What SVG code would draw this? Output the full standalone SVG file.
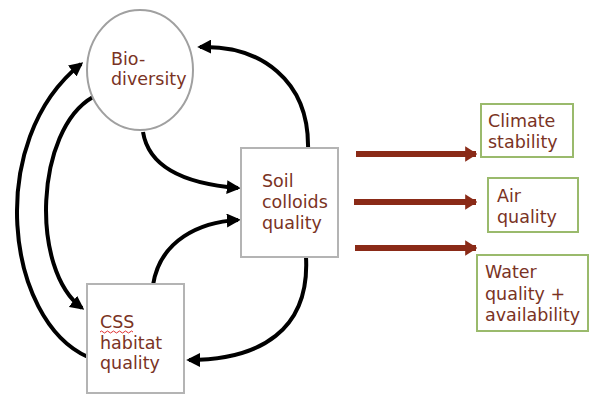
<svg xmlns="http://www.w3.org/2000/svg" width="592" height="396" viewBox="0 0 592 396">
<defs>
<marker id="ah" markerWidth="3.5" markerHeight="3.5" refX="2.8" refY="1.75" orient="auto" markerUnits="strokeWidth">
<path d="M0,0 L3.5,1.75 L0,3.5 z" fill="#000"/>
</marker>
<marker id="rh" markerWidth="2" markerHeight="2.6" refX="1.8" refY="1.3" orient="auto" markerUnits="strokeWidth">
<path d="M0,0 L2,1.3 L0,2.6 z" fill="#8a2a17"/>
</marker>
<style>
.t{font-family:"DejaVu Sans","Liberation Sans",sans-serif;font-size:17.5px;fill:#7a3324}
.gb{fill:#fff;stroke:#9aba6c;stroke-width:2}
.wb{fill:#fff;stroke:#b4b4b4;stroke-width:2}
.c{fill:none;stroke:#000;stroke-width:4;marker-end:url(#ah)}
.r{fill:none;stroke:#8a2a17;stroke-width:6;marker-end:url(#rh)}
</style>
</defs>
<rect width="592" height="396" fill="#fff"/>
<g id="connectors">
<path class="c" d="M308 150 C310 80 260 45 200 47"/>
<path class="c" d="M143 132 C150 175 200 185 238 188"/>
<path class="c" d="M153 285 C160 240 200 222 238 220"/>
<path class="c" d="M306 257 C310 330 260 360 189 360"/>
<path class="c" d="M88 357 C5 320 -15 140 81 64"/>
<path class="c" d="M93 97 C35 130 30 270 82 308"/>
<path class="r" d="M356 154 L476 154"/>
<path class="r" d="M354 202 L476 202"/>
<path class="r" d="M355 248 L476 248"/>
</g>
<g id="biodiversity">
<ellipse cx="140" cy="70" rx="53" ry="60" fill="#fff" stroke="#a0a0a0" stroke-width="2"/>
<text class="t" x="111" y="65">Bio-</text>
<text class="t" x="111" y="85">diversity</text>
</g>
<g id="soil">
<rect class="wb" x="241" y="148" width="97" height="109"/>
<text class="t" x="262" y="187">Soil</text>
<text class="t" x="262" y="208">colloids</text>
<text class="t" x="262" y="229">quality</text>
</g>
<g id="css">
<rect class="wb" x="87" y="284" width="97" height="109"/>
<text class="t" x="100" y="328">CSS</text>
<path d="M100 332 q1.5 -2 3 0 t3 0 t3 0 t3 0 t3 0 t3 0 t3 0 t3 0 t3 0 t3 0 t3 0" fill="none" stroke="#e03030" stroke-width="1"/>
<text class="t" x="100" y="349">habitat</text>
<text class="t" x="100" y="369">quality</text>
</g>
<g id="climate">
<rect class="gb" x="481" y="104" width="92" height="53"/>
<text class="t" x="488" y="127">Climate</text>
<text class="t" x="488" y="148">stability</text>
</g>
<g id="air">
<rect class="gb" x="488" y="178" width="90" height="54"/>
<text class="t" x="497" y="202">Air</text>
<text class="t" x="497" y="223">quality</text>
</g>
<g id="water">
<rect class="gb" x="477" y="255" width="111" height="76"/>
<text class="t" x="485" y="278">Water</text>
<text class="t" x="485" y="300">quality +</text>
<text class="t" x="485" y="321">availability</text>
</g>
</svg>
